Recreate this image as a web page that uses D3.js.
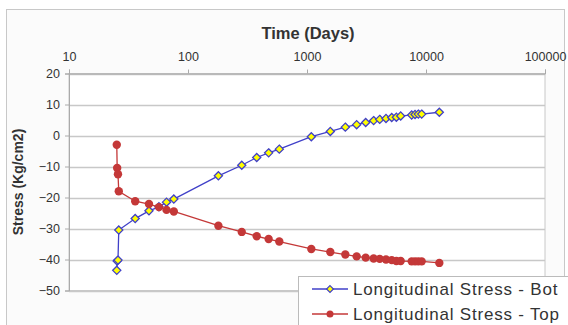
<!DOCTYPE html>
<html>
<head>
<meta charset="utf-8">
<script src="https://cdn.jsdelivr.net/npm/d3@7"></script>
<style>
  body { margin: 0; background: #fff; }
  svg { display: block; font-family: Arial, "Liberation Sans", sans-serif; }
</style>
</head>
<body>
<div id="chart"></div>
<script>
// time axis values (days)
const days = [25.2, 25.4, 25.8, 26.2, 36, 47, 57, 66, 76, 180, 283, 378, 476, 585,
  1087, 1570, 2099, 2614, 3113, 3630, 4083, 4612, 5152, 5636, 6128,
  7580, 8090, 8620, 9200, 12940];

const stressBot = [-43.5, -40.5, -40.2, -30.5, -26.8, -24.3, -23.0, -21.5, -20.5, -13.0, -9.6, -7.1, -5.6, -4.4,
  -0.4, 1.3, 2.7, 3.5, 4.2, 4.8, 5.2, 5.5, 5.8, 5.9, 6.3,
  6.6, 6.8, 6.9, 6.9, 7.5];

const stressTop = [-3.0, -10.5, -12.5, -18.0, -21.2, -22.1, -23.1, -24.0, -24.5, -29.1, -31.1, -32.5, -33.4, -34.2,
  -36.6, -37.6, -38.4, -39.0, -39.4, -39.7, -39.8, -40.0, -40.2, -40.5, -40.5,
  -40.6, -40.6, -40.6, -40.6, -41.1];

const xTicks = [10, 100, 1000, 10000, 100000];
const yTicks = [20, 10, 0, -10, -20, -30, -40, -50];

const seriesNames = ["Longitudinal Stress - Bot", "Longitudinal Stress - Top"];

const width = 568, height = 325;
const plot = { left: 69, right: 545, top: 73.5, bottom: 290.5 };

const svg = d3.select("#chart").append("svg")
  .attr("width", width)
  .attr("height", height);

// chart area frame
svg.append("rect")
  .attr("x", 6.5).attr("y", 9.5)
  .attr("width", 558).attr("height", 330)
  .attr("fill", "#fbfbfb")
  .attr("stroke", "#c8c8c8");

const x = d3.scaleLog().domain([10, 100000]).range([plot.left, plot.right]);
const y = d3.scaleLinear().domain([-50, 20]).range([plot.bottom, plot.top]);

// plot area
svg.append("rect")
  .attr("x", plot.left).attr("y", plot.top)
  .attr("width", plot.right - plot.left).attr("height", plot.bottom - plot.top)
  .attr("fill", "#fff")
  .attr("stroke", "#c8c8c8");

// gridlines
svg.append("g")
  .selectAll("line")
  .data(yTicks)
  .join("line")
    .attr("x1", plot.left).attr("x2", plot.right)
    .attr("y1", d => Math.round(y(d)) + 0.5)
    .attr("y2", d => Math.round(y(d)) + 0.5)
    .attr("stroke", "#c8c8c8")
    .attr("stroke-width", 1.5);

// x axis on top
const xAxis = svg.append("g")
  .attr("transform", `translate(0,${plot.top})`)
  .call(d3.axisTop(x).tickValues(xTicks).tickFormat(d3.format("d")).tickSize(4).tickPadding(9));
xAxis.select(".domain").attr("stroke", "#aaa");
xAxis.selectAll(".tick line").attr("stroke", "#aaa");
xAxis.selectAll("text").attr("font-size", 12.5).attr("fill", "#333");

// y axis
const yAxis = svg.append("g")
  .attr("transform", `translate(${plot.left},0)`)
  .call(d3.axisLeft(y).tickValues(yTicks).tickSize(4).tickPadding(5));
yAxis.select(".domain").attr("stroke", "#aaa");
yAxis.selectAll(".tick line").attr("stroke", "#aaa");
yAxis.selectAll("text").attr("font-size", 12.5).attr("fill", "#333");

// titles
svg.append("text")
  .attr("x", 308).attr("y", 39)
  .attr("text-anchor", "middle")
  .attr("font-size", 16.5).attr("font-weight", "bold").attr("fill", "#333")
  .text("Time (Days)");

svg.append("text")
  .attr("transform", `translate(23,${(plot.top + plot.bottom) / 2}) rotate(-90)`)
  .attr("text-anchor", "middle")
  .attr("font-size", 14).attr("font-weight", "bold").attr("fill", "#333")
  .text("Stress (Kg/cm2)");

const line = d3.line().x(d => x(d[0])).y(d => y(d[1]));
const botPts = days.map((d, i) => [d, stressBot[i]]);
const topPts = days.map((d, i) => [d, stressTop[i]]);

const blue = "#4040c8", red = "#c43838";
const diamond = d3.symbol().type(d3.symbolDiamond2).size(42);

// Bot series first, Top drawn over it
svg.append("path").datum(botPts)
  .attr("d", line).attr("fill", "none").attr("stroke", blue).attr("stroke-width", 1.3);
svg.append("g").selectAll("path")
  .data(botPts)
  .join("path")
    .attr("d", diamond)
    .attr("transform", d => `translate(${x(d[0])},${y(d[1])})`)
    .attr("fill", "#ffff00")
    .attr("stroke", blue)
    .attr("stroke-width", 1.3);

svg.append("path").datum(topPts)
  .attr("d", line).attr("fill", "none").attr("stroke", red).attr("stroke-width", 1.3);
svg.append("g").selectAll("circle")
  .data(topPts)
  .join("circle")
    .attr("cx", d => x(d[0])).attr("cy", d => y(d[1]))
    .attr("r", 4.2)
    .attr("fill", red);

// legend
const legend = svg.append("g");
legend.append("rect")
  .attr("x", 298.5).attr("y", 276.5)
  .attr("width", 300).attr("height", 80)
  .attr("fill", "#fff").attr("stroke", "#bbb");

const rows = legend.selectAll("g.row")
  .data(seriesNames)
  .join("g")
    .attr("class", "row")
    .attr("transform", (d, i) => `translate(0,${289 + i * 25})`);

rows.append("line")
  .attr("x1", 312).attr("x2", 348)
  .attr("stroke", (d, i) => i === 0 ? blue : red)
  .attr("stroke-width", 1.3);
rows.filter((d, i) => i === 0).append("path")
  .attr("d", d3.symbol().type(d3.symbolDiamond2).size(30))
  .attr("transform", "translate(330,0)")
  .attr("fill", "#ffff00").attr("stroke", blue).attr("stroke-width", 1.2);
rows.filter((d, i) => i === 1).append("circle")
  .attr("cx", 330).attr("r", 3.5).attr("fill", red);
rows.append("text")
  .attr("x", 353).attr("dy", "0.35em")
  .attr("font-size", 17).attr("letter-spacing", 0.8).attr("fill", "#333")
  .text(d => d);
</script>
</body>
</html>
